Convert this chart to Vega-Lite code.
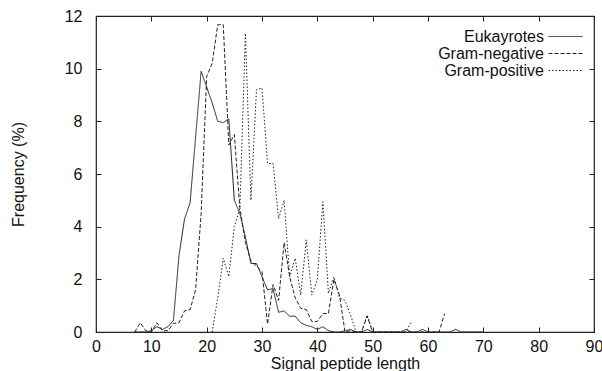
{
  "$schema": "https://vega.github.io/schema/vega-lite/v6.json",
  "width": 498,
  "height": 316,
  "autosize": {"type": "none"},
  "padding": {"left": 96, "top": 16, "right": 8, "bottom": 39},
  "background": "white",
  "config": {"font": "Liberation Sans", "view": {"stroke": "#222", "strokeWidth": 1.2}},
  "datasets": {
    "freqs": [
      {"group": "Eukayrotes", "length": 7, "freq": 0},
      {"group": "Eukayrotes", "length": 8, "freq": 0},
      {"group": "Eukayrotes", "length": 9, "freq": 0},
      {"group": "Eukayrotes", "length": 10, "freq": 0.05},
      {"group": "Eukayrotes", "length": 11, "freq": 0.2},
      {"group": "Eukayrotes", "length": 12, "freq": 0.1},
      {"group": "Eukayrotes", "length": 13, "freq": 0.2},
      {"group": "Eukayrotes", "length": 14, "freq": 0.45},
      {"group": "Eukayrotes", "length": 15, "freq": 2.9},
      {"group": "Eukayrotes", "length": 16, "freq": 4.3},
      {"group": "Eukayrotes", "length": 17, "freq": 4.9},
      {"group": "Eukayrotes", "length": 18, "freq": 7.4},
      {"group": "Eukayrotes", "length": 19, "freq": 9.9},
      {"group": "Eukayrotes", "length": 20, "freq": 9.3},
      {"group": "Eukayrotes", "length": 21, "freq": 8.7},
      {"group": "Eukayrotes", "length": 22, "freq": 8.0},
      {"group": "Eukayrotes", "length": 23, "freq": 7.95},
      {"group": "Eukayrotes", "length": 24, "freq": 8.1},
      {"group": "Eukayrotes", "length": 25, "freq": 5.0},
      {"group": "Eukayrotes", "length": 26, "freq": 4.5},
      {"group": "Eukayrotes", "length": 27, "freq": 3.6},
      {"group": "Eukayrotes", "length": 28, "freq": 2.6},
      {"group": "Eukayrotes", "length": 29, "freq": 2.6},
      {"group": "Eukayrotes", "length": 30, "freq": 2.1},
      {"group": "Eukayrotes", "length": 31, "freq": 1.6},
      {"group": "Eukayrotes", "length": 32, "freq": 1.65},
      {"group": "Eukayrotes", "length": 33, "freq": 0.75},
      {"group": "Eukayrotes", "length": 34, "freq": 0.8},
      {"group": "Eukayrotes", "length": 35, "freq": 0.6},
      {"group": "Eukayrotes", "length": 36, "freq": 0.6},
      {"group": "Eukayrotes", "length": 37, "freq": 0.35},
      {"group": "Eukayrotes", "length": 38, "freq": 0.25},
      {"group": "Eukayrotes", "length": 39, "freq": 0.2},
      {"group": "Eukayrotes", "length": 40, "freq": 0.1},
      {"group": "Eukayrotes", "length": 41, "freq": 0.2},
      {"group": "Eukayrotes", "length": 42, "freq": 0.05},
      {"group": "Eukayrotes", "length": 43, "freq": 0},
      {"group": "Eukayrotes", "length": 44, "freq": 0},
      {"group": "Eukayrotes", "length": 45, "freq": 0.05},
      {"group": "Eukayrotes", "length": 46, "freq": 0.1},
      {"group": "Eukayrotes", "length": 47, "freq": 0},
      {"group": "Eukayrotes", "length": 48, "freq": 0},
      {"group": "Eukayrotes", "length": 49, "freq": 0.1},
      {"group": "Eukayrotes", "length": 50, "freq": 0},
      {"group": "Eukayrotes", "length": 55, "freq": 0},
      {"group": "Eukayrotes", "length": 56, "freq": 0.1},
      {"group": "Eukayrotes", "length": 57, "freq": 0},
      {"group": "Eukayrotes", "length": 58, "freq": 0},
      {"group": "Eukayrotes", "length": 59, "freq": 0.1},
      {"group": "Eukayrotes", "length": 60, "freq": 0},
      {"group": "Eukayrotes", "length": 64, "freq": 0},
      {"group": "Eukayrotes", "length": 65, "freq": 0.1},
      {"group": "Eukayrotes", "length": 66, "freq": 0},
      {"group": "Eukayrotes", "length": 70, "freq": 0},
      {"group": "Gram-negative", "length": 7, "freq": 0},
      {"group": "Gram-negative", "length": 8, "freq": 0.35},
      {"group": "Gram-negative", "length": 9, "freq": 0.05},
      {"group": "Gram-negative", "length": 10, "freq": 0},
      {"group": "Gram-negative", "length": 11, "freq": 0.35},
      {"group": "Gram-negative", "length": 12, "freq": 0.05},
      {"group": "Gram-negative", "length": 13, "freq": 0.05},
      {"group": "Gram-negative", "length": 14, "freq": 0.33},
      {"group": "Gram-negative", "length": 15, "freq": 0.35},
      {"group": "Gram-negative", "length": 16, "freq": 0.8},
      {"group": "Gram-negative", "length": 17, "freq": 0.85},
      {"group": "Gram-negative", "length": 18, "freq": 1.6},
      {"group": "Gram-negative", "length": 19, "freq": 4.5},
      {"group": "Gram-negative", "length": 20, "freq": 9.7},
      {"group": "Gram-negative", "length": 21, "freq": 10.2},
      {"group": "Gram-negative", "length": 22, "freq": 11.67},
      {"group": "Gram-negative", "length": 23, "freq": 11.67},
      {"group": "Gram-negative", "length": 24, "freq": 7.1},
      {"group": "Gram-negative", "length": 25, "freq": 7.5},
      {"group": "Gram-negative", "length": 26, "freq": 4.7},
      {"group": "Gram-negative", "length": 27, "freq": 3.4},
      {"group": "Gram-negative", "length": 28, "freq": 2.7},
      {"group": "Gram-negative", "length": 29, "freq": 2.5},
      {"group": "Gram-negative", "length": 30, "freq": 2.3},
      {"group": "Gram-negative", "length": 31, "freq": 0.3},
      {"group": "Gram-negative", "length": 32, "freq": 1.8},
      {"group": "Gram-negative", "length": 33, "freq": 1.2},
      {"group": "Gram-negative", "length": 34, "freq": 3.4},
      {"group": "Gram-negative", "length": 35, "freq": 2.1},
      {"group": "Gram-negative", "length": 36, "freq": 1.3},
      {"group": "Gram-negative", "length": 37, "freq": 0.9},
      {"group": "Gram-negative", "length": 38, "freq": 0.85},
      {"group": "Gram-negative", "length": 39, "freq": 0.4},
      {"group": "Gram-negative", "length": 40, "freq": 0.4},
      {"group": "Gram-negative", "length": 41, "freq": 0.7},
      {"group": "Gram-negative", "length": 42, "freq": 0.7},
      {"group": "Gram-negative", "length": 43, "freq": 2.0},
      {"group": "Gram-negative", "length": 44, "freq": 1.4},
      {"group": "Gram-negative", "length": 45, "freq": 0},
      {"group": "Gram-negative", "length": 46, "freq": 0.05},
      {"group": "Gram-negative", "length": 47, "freq": 0},
      {"group": "Gram-negative", "length": 48, "freq": 0},
      {"group": "Gram-negative", "length": 49, "freq": 0.6},
      {"group": "Gram-negative", "length": 50, "freq": 0},
      {"group": "Gram-negative", "length": 62, "freq": 0},
      {"group": "Gram-negative", "length": 63, "freq": 0.7},
      {"group": "Gram-positive", "length": 21, "freq": 0},
      {"group": "Gram-positive", "length": 22, "freq": 1.3},
      {"group": "Gram-positive", "length": 23, "freq": 2.8},
      {"group": "Gram-positive", "length": 24, "freq": 2.1},
      {"group": "Gram-positive", "length": 25, "freq": 4.0},
      {"group": "Gram-positive", "length": 26, "freq": 4.7},
      {"group": "Gram-positive", "length": 27, "freq": 11.35},
      {"group": "Gram-positive", "length": 28, "freq": 5.0},
      {"group": "Gram-positive", "length": 29, "freq": 9.2},
      {"group": "Gram-positive", "length": 30, "freq": 9.27},
      {"group": "Gram-positive", "length": 31, "freq": 6.4},
      {"group": "Gram-positive", "length": 32, "freq": 6.4},
      {"group": "Gram-positive", "length": 33, "freq": 4.3},
      {"group": "Gram-positive", "length": 34, "freq": 5.0},
      {"group": "Gram-positive", "length": 35, "freq": 2.1},
      {"group": "Gram-positive", "length": 36, "freq": 2.8},
      {"group": "Gram-positive", "length": 37, "freq": 1.4},
      {"group": "Gram-positive", "length": 38, "freq": 3.5},
      {"group": "Gram-positive", "length": 39, "freq": 1.4},
      {"group": "Gram-positive", "length": 40, "freq": 2.0},
      {"group": "Gram-positive", "length": 41, "freq": 4.95},
      {"group": "Gram-positive", "length": 42, "freq": 1.47},
      {"group": "Gram-positive", "length": 43, "freq": 2.1},
      {"group": "Gram-positive", "length": 44, "freq": 1.3},
      {"group": "Gram-positive", "length": 45, "freq": 1.2},
      {"group": "Gram-positive", "length": 46, "freq": 0.65},
      {"group": "Gram-positive", "length": 47, "freq": 0},
      {"group": "Gram-positive", "length": 48, "freq": 0},
      {"group": "Gram-positive", "length": 49, "freq": 0.65},
      {"group": "Gram-positive", "length": 50, "freq": 0},
      {"group": "Gram-positive", "length": 56, "freq": 0},
      {"group": "Gram-positive", "length": 57, "freq": 0.4}
    ]
  },
  "data": {"name": "freqs"},
  "layer": [
    {
      "mark": {"type": "line", "strokeWidth": 1, "color": "#222", "clip": true},
      "encoding": {
        "x": {
          "field": "length", "type": "quantitative",
          "scale": {"domain": [0, 90], "nice": false, "zero": false},
          "axis": {
            "orient": "bottom", "values": [0, 10, 20, 30, 40, 50, 60, 70, 80, 90],
            "title": "Signal peptide length", "titleFontSize": 16, "titleFontWeight": "normal",
            "titleColor": "#111", "titlePadding": 1,
            "labelFontSize": 16, "labelColor": "#111", "labelPadding": 11,
            "tickSize": -5, "tickColor": "#222", "domain": false, "grid": false,
            "labelFlush": false, "labelOverlap": false
          }
        },
        "y": {
          "field": "freq", "type": "quantitative",
          "scale": {"domain": [0, 12], "nice": false},
          "axis": {
            "orient": "left", "values": [0, 2, 4, 6, 8, 10, 12],
            "title": "Frequency (%)", "titleFontSize": 16, "titleFontWeight": "normal",
            "titleColor": "#111", "titlePadding": 38,
            "labelFontSize": 16, "labelColor": "#111", "labelPadding": 19,
            "tickSize": -5, "tickColor": "#222", "domain": false, "grid": false,
            "labelFlush": false, "labelOverlap": false
          }
        },
        "strokeDash": {
          "field": "group", "type": "nominal",
          "scale": {
            "domain": ["Eukayrotes", "Gram-negative", "Gram-positive"],
            "range": [[1, 0], [4, 2], [1.5, 2]]
          },
          "legend": {
            "orient": "none", "legendX": 460.5, "legendY": 11.5,
            "title": null, "symbolType": "M-2,0L2,0", "symbolSize": 289,
            "symbolStrokeWidth": 1, "symbolStrokeColor": "#222", "symbolOpacity": 1,
            "symbolFillColor": "transparent",
            "labelAlign": "right", "labelOffset": -30.5, "labelFontSize": 16,
            "labelColor": "#111", "rowPadding": 0, "padding": 0
          }
        }
      }
    },
    {
      "mark": {"type": "line", "opacity": 0},
      "encoding": {
        "x": {
          "field": "length", "type": "quantitative",
          "scale": {"domain": [0, 90], "nice": false, "zero": false},
          "axis": {
            "orient": "top", "values": [0, 10, 20, 30, 40, 50, 60, 70, 80, 90],
            "title": null, "labels": false, "tickSize": -5, "tickColor": "#222",
            "domain": false, "grid": false
          }
        },
        "y": {
          "field": "freq", "type": "quantitative",
          "scale": {"domain": [0, 12], "nice": false},
          "axis": {
            "orient": "right", "values": [0, 2, 4, 6, 8, 10, 12],
            "title": null, "labels": false, "tickSize": -5, "tickColor": "#222",
            "domain": false, "grid": false
          }
        }
      }
    }
  ],
  "resolve": {"axis": {"x": "independent", "y": "independent"}}
}
